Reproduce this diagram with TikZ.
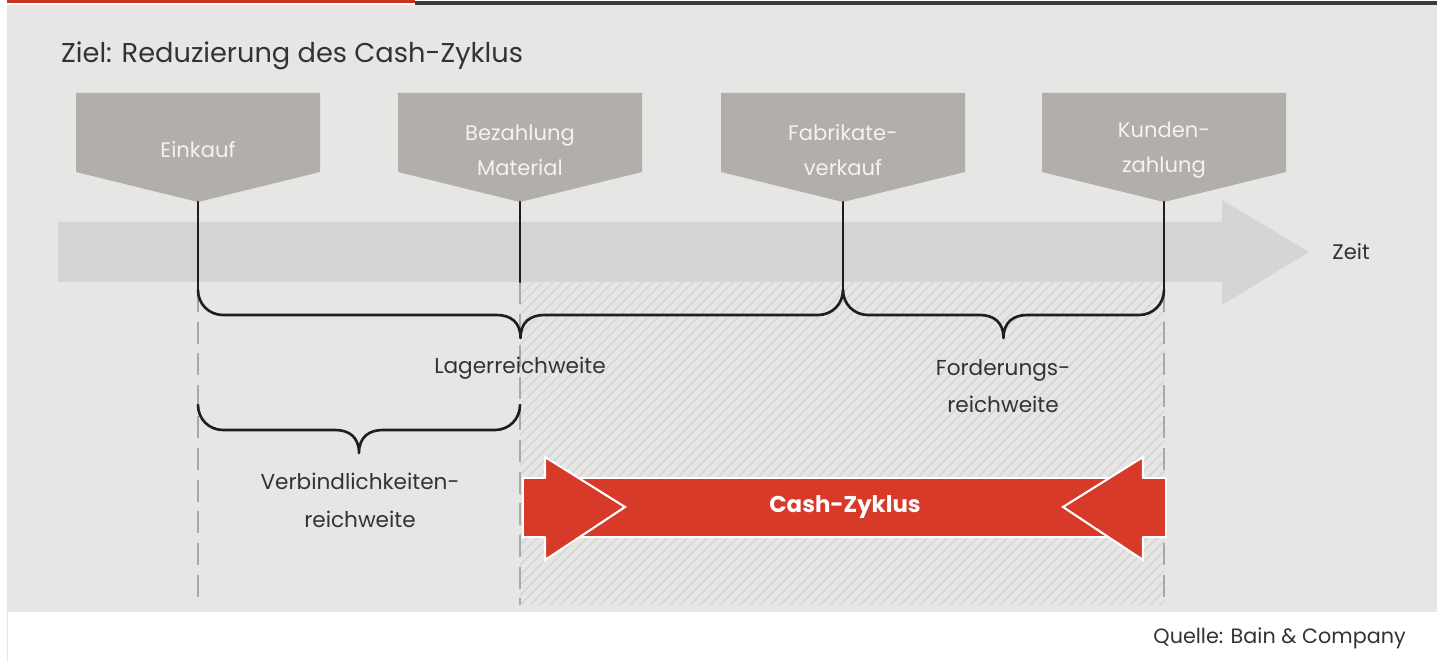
\documentclass[tikz,border=0pt]{standalone}
\usepackage{fontspec}
\setmainfont{Poppins}
\definecolor{panel}{HTML}{E6E6E5}
\definecolor{fuenfeck}{HTML}{B1AEAB}
\definecolor{fuenftext}{HTML}{F3F3F3}
\definecolor{zeitband}{HTML}{D6D5D4}
\definecolor{schrift}{HTML}{333333}
\definecolor{strich}{HTML}{1E1E1E}
\definecolor{gestrichelt}{HTML}{A8A8A8}
\definecolor{schraffur}{HTML}{D5D5D4}
\definecolor{zyklusrot}{HTML}{D83A29}
\definecolor{balkenrot}{HTML}{C8321F}
\definecolor{balkengrau}{HTML}{3A3A3A}
% geschweifte Klammer: linkes x, rechtes x, oberes y
\newcommand{\klammer}[3]{%
\pgfmathsetmacro\km{(#1+#2)/2}
\draw [klammer] (#1,#3) .. controls (#1,#3-14) and (#1+11,#3-25) .. (#1+25,#3-25)-- (\km-24,#3-25) .. controls (\km-10,#3-25) and (\km,#3-32) .. (\km,#3-48) .. controls (\km,#3-32) and (\km+10,#3-25) .. (\km+24,#3-25)-- (#2-25,#3-25) .. controls (#2-11,#3-25) and (#2,#3-14) .. (#2,#3);}

\begin{document}
\begin{tikzpicture}[line cap=round,line join=round,x=0.02cm,y=0.02cm,
  klammer/.style={line width=1.5pt,draw=strich},
  zeitstrich/.style={line width=1.5pt,draw=strich},
  raster/.style={line width=1.6pt,draw=gestrichelt,line cap=butt,dash pattern=on 12.5pt off 5.5pt},
  schraeg/.style={line width=0.8pt,draw=schraffur},
  zyklus/.style={fill=zyklusrot,draw=white,line width=1.2pt,line join=miter},
  fuenftxt/.style={text=fuenftext,align=center,font=\fontsize{12}{19.8}\selectfont},
  beschrift/.style={text=schrift,align=center,font=\fontsize{12.3}{21.5}\selectfont}]
\useasboundingbox (0,0) rectangle (1442,662);
% Hintergrund und Kopfleiste
\fill [white] (0,0) rectangle (1442,662);
\fill [panel] (7,50) rectangle (1437,657);
\fill [balkenrot] (7,658.5) rectangle (415,662);
\fill [balkengrau] (415,657) rectangle (1437,660.5);
\draw [line width=0.5pt,draw=panel] (7,0)-- (7,50);
\node [anchor=base west,text=schrift,font=\fontsize{15.5}{18}\selectfont] (ziel) at (55,599) {Ziel: Reduzierung des Cash-Zyklus};
% schraffierter Bereich
\begin{scope}
\clip (520,57) rectangle (1164,380);
\foreach \s in {190,200,...,1170}
  \draw [schraeg] (\s,57)-- ++(330,330);
\end{scope}
% Zeitpfeil
\fill [zeitband] (58,380)-- (1222,380)-- (1222,357)-- (1309,410)-- (1222,462)-- (1222,440)-- (58,440)-- cycle;
\node [text=schrift,font=\fontsize{12}{14}\selectfont] (zeit) at (1351,410) {Zeit};
% Fuenfecke
\fill [fuenfeck] (76,569)-- (320,569)-- (320,490)-- (198,460)-- (76,490)-- cycle;
\fill [fuenfeck] (398,569)-- (642,569)-- (642,490)-- (520,460)-- (398,490)-- cycle;
\fill [fuenfeck] (721,569)-- (965,569)-- (965,490)-- (843,460)-- (721,490)-- cycle;
\fill [fuenfeck] (1042,569)-- (1286,569)-- (1286,490)-- (1164,460)-- (1042,490)-- cycle;
\node [fuenftxt] (einkauf) at (198,512) {Einkauf};
\node [fuenftxt] (bezahlung) at (520,512) {Bezahlung\\Material};
\node [fuenftxt] (fabrikate) at (843,512) {Fabrikate-\\verkauf};
\node [fuenftxt] (kunden) at (1164,512) {Kunden-\\zahlung};
% Zeitpunkte
\coordinate (s1) at (198,460);
\coordinate (s2) at (520,460);
\coordinate (s3) at (843,460);
\coordinate (s4) at (1164,460);
\coordinate (f1) at (198,372);
\coordinate (f2) at (520,380);
\coordinate (f3) at (843,372);
\coordinate (f4) at (1164,372);
\coordinate (u1) at (198,57);
\coordinate (u2) at (520,57);
\coordinate (u4) at (1164,57);
\draw [raster] (f1)-- (u1);
\draw [raster] (f2)-- (u2);
\draw [raster] (f4)-- (u4);
\draw [zeitstrich] (s1)-- (f1);
\draw [zeitstrich] (s2)-- (f2);
\draw [zeitstrich] (s3)-- (f3);
\draw [zeitstrich] (s4)-- (f4);
% Klammern
\klammer{198}{843}{372}
\klammer{843}{1164}{372}
\klammer{198}{520}{257}
\node [beschrift] (lager) at (520,294) {Lagerreichweite};
\node [beschrift] (forderung) at (1003,276) {Forderungs-\\reichweite};
\node [beschrift] (verbindl) at (360,162) {Verbindlichkeiten-\\reichweite};
% Cash-Zyklus
\draw [zyklus] (523,184)-- (1166,184)-- (1166,125)-- (523,125)-- cycle;
\draw [zyklus] (545,184)-- (545,205)-- (625,155)-- (545,102)-- (545,125);
\draw [zyklus] (1143,184)-- (1143,205)-- (1063,155)-- (1143,102)-- (1143,125);
\node [text=white,font=\bfseries\fontsize{13}{15}\selectfont] (cash) at (845,155) {Cash-Zyklus};
\node [anchor=east,text=schrift,font=\fontsize{11.8}{14}\selectfont] (quelle) at (1412,24) {Quelle: Bain \& Company};
\end{tikzpicture}
\end{document}
